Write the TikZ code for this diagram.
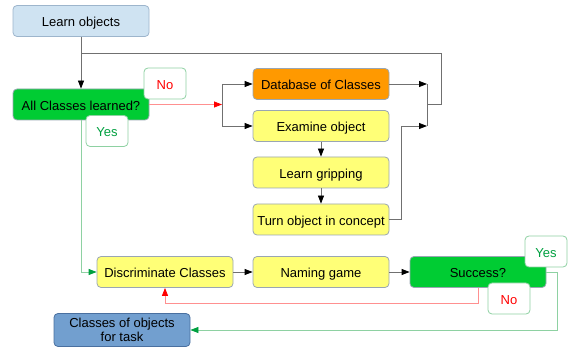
\documentclass[tikz,border=0pt]{standalone}
\usepackage{fontspec}
\setmainfont{Liberation Sans}
\usetikzlibrary{arrows.meta}
\definecolor{lbfill}{HTML}{CFE3F2}
\definecolor{lbdraw}{HTML}{9DB5CC}
\definecolor{gfill}{HTML}{00CC33}
\definecolor{ofill}{HTML}{FF9900}
\definecolor{yfill}{HTML}{FFFF77}
\definecolor{bfill}{HTML}{729FCF}
\definecolor{bdraw}{HTML}{4A70A0}
\definecolor{ndraw}{HTML}{9AA6B2}
\definecolor{lgreen}{HTML}{8ED1A2}
\definecolor{tgreen}{HTML}{00A040}
\definecolor{lred}{HTML}{FF9090}
\definecolor{lnc}{HTML}{707070}
\tikzset{
  boxbase/.style={draw=ndraw, line width=0.8pt, rounded corners=4pt, minimum width=136pt, minimum height=31pt, inner sep=1pt, font=\fontsize{13pt}{15pt}\selectfont, align=center},
  box/.style={boxbase, text height=12.4pt, text depth=1pt},
  lbl/.style={draw=lgreen, fill=white, line width=0.8pt, rounded corners=4pt, minimum width=42pt, minimum height=31pt, inner sep=0pt, font=\fontsize{13pt}{15pt}\selectfont, text height=12.4pt, text depth=1pt},
  blk/.style={draw=lnc, line width=0.8pt, -{Triangle[length=8pt,width=6pt,fill=black,color=black]}},
  plain/.style={draw=lnc, line width=0.8pt},
  redarr/.style={draw=lred, line width=0.8pt, -{Triangle[length=8pt,width=6pt,fill=red,color=red]}},
  grnarr/.style={draw=lgreen, line width=0.8pt, -{Triangle[length=8pt,width=6pt,fill=tgreen,color=tgreen]}},
}
\begin{document}
\begin{tikzpicture}[x=1pt,y=-1pt]
\useasboundingbox (0,0) rectangle (568,347);
% nodes
\node[box, fill=lbfill, draw=lbdraw] (learn) at (81,21) {Learn objects};
\node[box, fill=gfill] (all) at (81,104.5) {All Classes learned?};
\node[box, fill=ofill] (db) at (321,84) {Database of Classes};
\node[box, fill=yfill] (exam) at (321,126) {Examine object};
\node[box, fill=yfill] (grip) at (321,172.5) {Learn gripping};
\node[box, fill=yfill] (turn) at (321,219.5) {Turn object in concept};
\node[box, fill=yfill] (disc) at (165,272) {Discriminate Classes};
\node[box, fill=yfill] (name) at (321,272) {Naming game};
\node[box, fill=gfill] (succ) at (478,272) {Success?};
\node[boxbase, fill=bfill, draw=bdraw, minimum height=33pt, font=\fontsize{13pt}{14.5pt}\selectfont] (cls) at (122,330) {Classes of objects\\for task};
% coordinates
\coordinate (top) at (81,53);
\coordinate (split) at (222,104.5);
\coordinate (j1) at (427,84);
\coordinate (j2) at (427,126);
\coordinate (jm) at (427,104);
\coordinate (jr) at (441,104);
% connectors
\draw[blk] (learn) -- (all);
\draw[plain] (jm) -- (jr) |- (top);
\draw[plain] (j1) -- (j2);
\draw[blk] (db.east) -- (j1);
\draw[blk] (turn.east) -- (401,219.5) |- (j2);
\draw[redarr] (all.east) -- (split);
\draw[plain] (split |- db) -- (split |- exam);
\draw[blk] (split) |- (db.west);
\draw[blk] (split) |- (exam.west);
\draw[blk] (exam) -- (grip);
\draw[blk] (grip) -- (turn);
\draw[grnarr] (all.south) |- (disc.west);
\draw[blk] (disc) -- (name);
\draw[blk] (name) -- (succ);
\draw[redarr] (succ.south) -- ++(0,15.5) -| (disc.south);
\draw[grnarr] (succ.east) -- (557,272) |- (cls.east);
% labels
\node[lbl, text=red] (no1) at (165,83.5) {No};
\node[lbl, text=tgreen] (yes1) at (107,131) {Yes};
\node[lbl, text=tgreen] (yes2) at (546,251.5) {Yes};
\node[lbl, text=red] (no2) at (509,298.5) {No};
\end{tikzpicture}
\end{document}
